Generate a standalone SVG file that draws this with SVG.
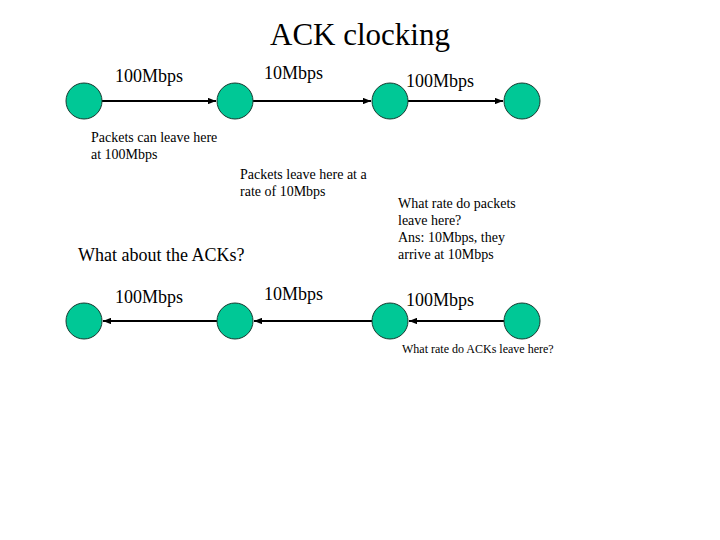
<svg xmlns="http://www.w3.org/2000/svg" width="720" height="540" viewBox="0 0 720 540">
<style>
text{font-family:"Liberation Serif","Times New Roman",serif;fill:#000}
.title{font-size:31px}
.rb{font-size:18px}
.rr{font-size:18px}
.note{font-size:14px}
.small{font-size:12px}
.node{fill:#00C896;stroke:#1a3a30;stroke-width:1}
.link{stroke:#000;stroke-width:2;fill:none;marker-end:url(#ah)}
</style>
<defs>
<marker id="ah" viewBox="0 0 10 8" refX="10" refY="4" markerWidth="4" markerHeight="3.2" orient="auto" markerUnits="strokeWidth">
<path d="M0,0 L10,4 L0,8 Z" fill="#000"/>
</marker>
</defs>
<rect width="720" height="540" fill="#fff"/>
<text class="title" x="360" y="45" text-anchor="middle">ACK clocking</text>
<g id="connectors">
<line class="link" x1="102" y1="101" x2="216" y2="101"/>
<line class="link" x1="253" y1="101" x2="371" y2="101"/>
<line class="link" x1="408" y1="101" x2="503" y2="101"/>
<line class="link" x1="217" y1="321" x2="103" y2="321"/>
<line class="link" x1="372" y1="321" x2="254" y2="321"/>
<line class="link" x1="504" y1="321" x2="409" y2="321"/>
</g>
<g id="n1"><circle class="node" cx="84" cy="101" r="18"/></g>
<g id="n2"><circle class="node" cx="235" cy="101" r="18"/></g>
<g id="n3"><circle class="node" cx="390" cy="101" r="18"/></g>
<g id="n4"><circle class="node" cx="522" cy="101" r="18"/></g>
<g id="n5"><circle class="node" cx="84" cy="321" r="18"/></g>
<g id="n6"><circle class="node" cx="235" cy="321" r="18"/></g>
<g id="n7"><circle class="node" cx="390" cy="321" r="18"/></g>
<g id="n8"><circle class="node" cx="522" cy="321" r="18"/></g>
<g id="labels">
<text class="rb" x="115" y="82">100Mbps</text>
<text class="rr" x="264" y="79">10Mbps</text>
<text class="rb" x="406" y="87">100Mbps</text>
<text class="note" x="91" y="142">Packets can leave here</text>
<text class="note" x="91" y="159">at 100Mbps</text>
<text class="note" x="240" y="179">Packets leave here at a</text>
<text class="note" x="240" y="196">rate of 10Mbps</text>
<text class="note" x="398" y="208">What rate do packets</text>
<text class="note" x="398" y="225">leave here?</text>
<text class="note" x="398" y="242">Ans: 10Mbps, they</text>
<text class="note" x="398" y="259">arrive at 10Mbps</text>
<text class="rb" x="78" y="261">What about the ACKs?</text>
<text class="rb" x="115" y="303">100Mbps</text>
<text class="rr" x="264" y="300">10Mbps</text>
<text class="rb" x="406" y="306">100Mbps</text>
<text class="small" x="402" y="353">What rate do ACKs leave here?</text>
</g>
</svg>
